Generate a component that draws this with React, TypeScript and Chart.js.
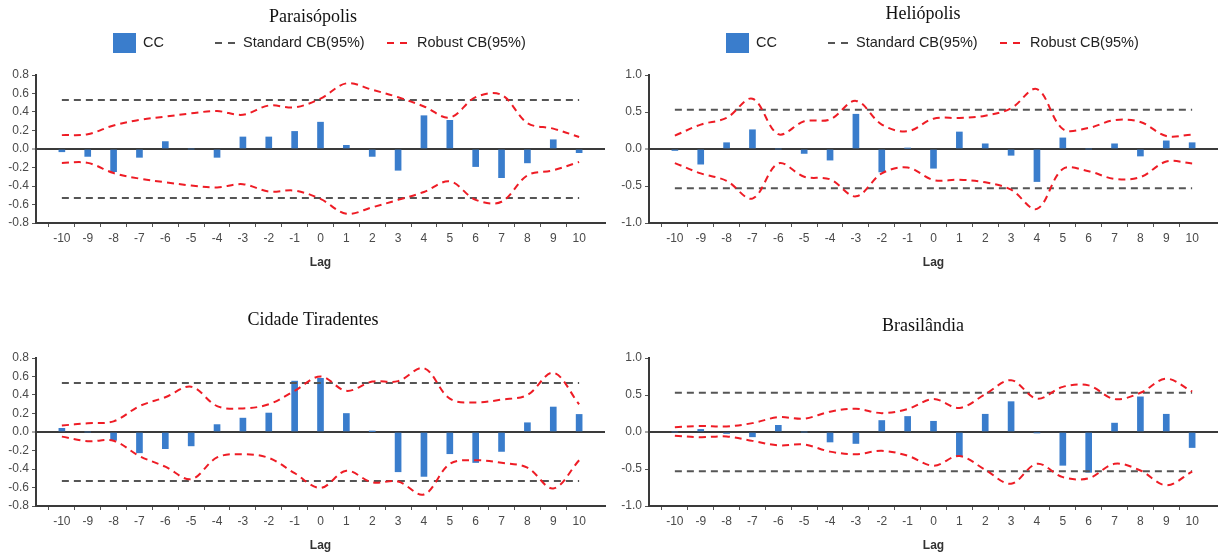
import React, { useEffect, useRef } from 'react';
import { Chart, registerables } from 'chart.js';

Chart.register(...registerables);

// ---------- data ----------
const LAGS = [-10, -9, -8, -7, -6, -5, -4, -3, -2, -1, 0, 1, 2, 3, 4, 5, 6, 7, 8, 9, 10];

const STANDARD_CB_UPPER = 0.53;
const STANDARD_CB_LOWER = -0.53;

const PARAISOPOLIS_CC = [-0.03, -0.08, -0.245, -0.09, 0.08, 0, -0.09, 0.13, 0.13, 0.19, 0.29, 0.04, -0.08, -0.23, 0.36, 0.31, -0.19, -0.31, -0.15, 0.1, -0.04];
const PARAISOPOLIS_ROBUST_UPPER = [0.15, 0.16, 0.255, 0.315, 0.35, 0.385, 0.41, 0.37, 0.47, 0.45, 0.545, 0.71, 0.64, 0.56, 0.46, 0.34, 0.56, 0.585, 0.28, 0.22, 0.13];
const PARAISOPOLIS_ROBUST_LOWER = [-0.15, -0.15, -0.26, -0.32, -0.36, -0.395, -0.415, -0.38, -0.46, -0.45, -0.54, -0.7, -0.63, -0.55, -0.465, -0.35, -0.55, -0.57, -0.285, -0.23, -0.14];

const HELIOPOLIS_CC = [-0.02, -0.205, 0.085, 0.26, 0, -0.06, -0.15, 0.47, -0.31, 0.01, -0.26, 0.23, 0.07, -0.085, -0.44, 0.15, 0, 0.07, -0.095, 0.11, 0.085];
const HELIOPOLIS_ROBUST_UPPER = [0.18, 0.33, 0.42, 0.68, 0.2, 0.375, 0.4, 0.65, 0.33, 0.24, 0.41, 0.42, 0.45, 0.55, 0.81, 0.27, 0.285, 0.39, 0.365, 0.175, 0.195];
const HELIOPOLIS_ROBUST_LOWER = [-0.19, -0.33, -0.43, -0.67, -0.195, -0.375, -0.41, -0.64, -0.33, -0.25, -0.42, -0.415, -0.45, -0.55, -0.81, -0.27, -0.3, -0.405, -0.38, -0.17, -0.195];

const CIDADE_CC = [0.04, 0, -0.09, -0.225, -0.18, -0.15, 0.08, 0.15, 0.205, 0.55, 0.58, 0.2, 0.005, -0.43, -0.48, -0.235, -0.33, -0.21, 0.1, 0.27, 0.19];
const CIDADE_ROBUST_UPPER = [0.07, 0.095, 0.115, 0.28, 0.375, 0.49, 0.28, 0.255, 0.3, 0.445, 0.6, 0.445, 0.545, 0.55, 0.69, 0.36, 0.32, 0.35, 0.4, 0.64, 0.3];
const CIDADE_ROBUST_LOWER = [-0.05, -0.1, -0.095, -0.26, -0.375, -0.51, -0.275, -0.24, -0.28, -0.445, -0.605, -0.42, -0.545, -0.535, -0.675, -0.345, -0.305, -0.333, -0.385, -0.61, -0.305];

const BRASILANDIA_CC = [0, 0.035, -0.02, -0.065, 0.09, 0, -0.135, -0.155, 0.155, 0.21, 0.145, -0.325, 0.24, 0.41, -0.01, -0.45, -0.545, 0.12, 0.475, 0.24, -0.21];
const BRASILANDIA_ROBUST_UPPER = [0.065, 0.08, 0.075, 0.12, 0.2, 0.18, 0.275, 0.315, 0.255, 0.31, 0.445, 0.325, 0.51, 0.7, 0.45, 0.61, 0.63, 0.445, 0.53, 0.72, 0.545];
const BRASILANDIA_ROBUST_LOWER = [-0.05, -0.07, -0.06, -0.12, -0.18, -0.17, -0.265, -0.3, -0.255, -0.32, -0.455, -0.325, -0.51, -0.7, -0.43, -0.61, -0.625, -0.43, -0.52, -0.72, -0.535];

const LEGEND_LABELS = ['CC', 'Standard CB(95%)', 'Robust CB(95%)'];
const X_TITLE = 'Lag';

// ---------- styles ----------
const BAR_COLOR = '#3a7dcc';
const STD_COLOR = '#555555';
const ROBUST_COLOR = '#ee1c25';
const AXIS_COLOR = '#3a3a3a';
const SANS = '"Liberation Sans", Arial, sans-serif';
const SERIF = '"Liberation Serif", "Times New Roman", serif';

type PanelCfg = {
  title: string;
  cc: number[];
  robustUpper: number[];
  robustLower: number[];
  yMin: number;
  yMax: number;
  yStep: number;
  left: number;
  top: number;
  titleX: number;
  titleY: number;
  legend: boolean;
};

const PANELS: PanelCfg[] = [
  { title: 'Paraisópolis', cc: PARAISOPOLIS_CC, robustUpper: PARAISOPOLIS_ROBUST_UPPER, robustLower: PARAISOPOLIS_ROBUST_LOWER, yMin: -0.8, yMax: 0.8, yStep: 0.2, left: 0, top: 0, titleX: 313, titleY: 17, legend: true },
  { title: 'Heliópolis', cc: HELIOPOLIS_CC, robustUpper: HELIOPOLIS_ROBUST_UPPER, robustLower: HELIOPOLIS_ROBUST_LOWER, yMin: -1, yMax: 1, yStep: 0.5, left: 613, top: 0, titleX: 310, titleY: 14, legend: true },
  { title: 'Cidade Tiradentes', cc: CIDADE_CC, robustUpper: CIDADE_ROBUST_UPPER, robustLower: CIDADE_ROBUST_LOWER, yMin: -0.8, yMax: 0.8, yStep: 0.2, left: 0, top: 283, titleX: 313, titleY: 37, legend: false },
  { title: 'Brasilândia', cc: BRASILANDIA_CC, robustUpper: BRASILANDIA_ROBUST_UPPER, robustLower: BRASILANDIA_ROBUST_LOWER, yMin: -1, yMax: 1, yStep: 0.5, left: 613, top: 283, titleX: 310, titleY: 43, legend: false },
];

const headerPlugin = {
  id: 'header',
  afterDraw(chart: any, _args: any, opts: any) {
    const ctx: CanvasRenderingContext2D = chart.ctx;
    ctx.save();
    ctx.font = `18px ${SERIF}`;
    ctx.fillStyle = '#111111';
    ctx.textAlign = 'center';
    ctx.textBaseline = 'middle';
    ctx.fillText(opts.title, opts.titleX, opts.titleY);
    if (opts.legend) {
      const y = 43;
      ctx.font = `14.5px ${SANS}`;
      ctx.textAlign = 'left';
      // CC box
      ctx.fillStyle = BAR_COLOR;
      ctx.fillRect(113, 33, 23, 20);
      ctx.fillStyle = '#222222';
      ctx.fillText(LEGEND_LABELS[0], 143, y);
      // standard
      ctx.lineWidth = 2;
      ctx.setLineDash([7, 6]);
      ctx.strokeStyle = STD_COLOR;
      ctx.beginPath();
      ctx.moveTo(215, y);
      ctx.lineTo(235, y);
      ctx.stroke();
      ctx.fillText(LEGEND_LABELS[1], 243, y);
      // robust
      ctx.strokeStyle = ROBUST_COLOR;
      ctx.beginPath();
      ctx.moveTo(387, y);
      ctx.lineTo(407, y);
      ctx.stroke();
      ctx.fillText(LEGEND_LABELS[2], 417, y);
    }
    ctx.restore();
  },
};

function Panel({ cfg }: { cfg: PanelCfg }) {
  const ref = useRef<HTMLCanvasElement>(null);
  useEffect(() => {
    const pts = (arr: number[]) => LAGS.map((x, i) => ({ x, y: arr[i] }));
    const lineBase = { type: 'line', borderWidth: 2, borderDash: [7, 5], pointRadius: 0, fill: false };
    const chart = new Chart(ref.current as HTMLCanvasElement, {
      type: 'bar',
      data: {
        datasets: [
          { ...lineBase, label: LEGEND_LABELS[1], data: LAGS.map((x) => ({ x, y: STANDARD_CB_UPPER })), borderColor: STD_COLOR, order: 1 } as any,
          { ...lineBase, label: LEGEND_LABELS[1], data: LAGS.map((x) => ({ x, y: STANDARD_CB_LOWER })), borderColor: STD_COLOR, order: 1 } as any,
          { ...lineBase, label: LEGEND_LABELS[2], data: pts(cfg.robustUpper), borderColor: ROBUST_COLOR, tension: 0.35, order: 0 } as any,
          { ...lineBase, label: LEGEND_LABELS[2], data: pts(cfg.robustLower), borderColor: ROBUST_COLOR, tension: 0.35, order: 0 } as any,
          {
            type: 'bar',
            label: LEGEND_LABELS[0],
            data: pts(cfg.cc),
            backgroundColor: BAR_COLOR,
            borderWidth: 0,
            barThickness: 6,
            order: 3,
          } as any,
        ],
      },
      options: {
        animation: false,
        responsive: false,
        devicePixelRatio: 1,
        layout: { padding: { top: 75, right: 1, left: 0, bottom: 0 } },
        plugins: {
          legend: { display: false },
          title: { display: false },
          tooltip: { enabled: false },
          header: { title: cfg.title, titleX: cfg.titleX, titleY: cfg.titleY, legend: cfg.legend },
        } as any,
        scales: {
          x: {
            type: 'linear',
            min: -11,
            max: 11,
            offset: false,
            afterFit: (s: any) => {
              s.height = 57;
            },
            border: { display: true, color: AXIS_COLOR, width: 2 },
            grid: {
              display: true,
              drawOnChartArea: false,
              drawTicks: true,
              tickLength: 4,
              tickWidth: 1,
              tickColor: (c: any) => (c.tick && Math.abs(c.tick.value) > 10.5 ? 'rgba(0,0,0,0)' : '#555555'),
            },
            ticks: {
              stepSize: 1,
              autoSkip: false,
              maxRotation: 0,
              padding: 4,
              color: '#4a4a4a',
              font: { family: SANS, size: 12 },
              callback: (v: any) => (Math.abs(v) > 10.5 ? '' : String(v)),
            },
            title: {
              display: true,
              text: X_TITLE,
              color: '#333333',
              font: { family: SANS, size: 12, weight: 'bold' },
              padding: { top: 0, bottom: 10 },
            },
          },
          y: {
            type: 'linear',
            min: cfg.yMin,
            max: cfg.yMax,
            afterFit: (s: any) => {
              s.width = 36;
            },
            border: { display: true, color: AXIS_COLOR, width: 2 },
            grid: {
              display: true,
              drawOnChartArea: true,
              drawTicks: true,
              tickLength: 4,
              color: (c: any) => (c.tick && Math.abs(c.tick.value) < 1e-9 ? AXIS_COLOR : 'rgba(0,0,0,0)'),
              lineWidth: (c: any) => (c.tick && Math.abs(c.tick.value) < 1e-9 ? 2 : 1),
              tickColor: '#555555',
              tickWidth: 1,
            },
            ticks: {
              stepSize: cfg.yStep,
              autoSkip: false,
              padding: 3,
              color: '#4a4a4a',
              font: { family: SANS, size: 12 },
              callback: (v: any) => Number(v).toFixed(1),
            },
          },
        },
      } as any,
      plugins: [headerPlugin as any],
    });
    return () => chart.destroy();
  }, [cfg]);
  return (
    <div style={{ position: 'absolute', left: cfg.left, top: cfg.top, width: 609, height: 280 }}>
      <canvas ref={ref} width={609} height={280} style={{ display: 'block' }} />
    </div>
  );
}

export default function App() {
  return (
    <div
      style={{
        position: 'fixed',
        left: 0,
        top: 0,
        width: 1218,
        height: 555,
        overflow: 'hidden',
        background: '#ffffff',
      }}
    >
      {PANELS.map((p) => (
        <Panel key={p.title} cfg={p} />
      ))}
    </div>
  );
}
